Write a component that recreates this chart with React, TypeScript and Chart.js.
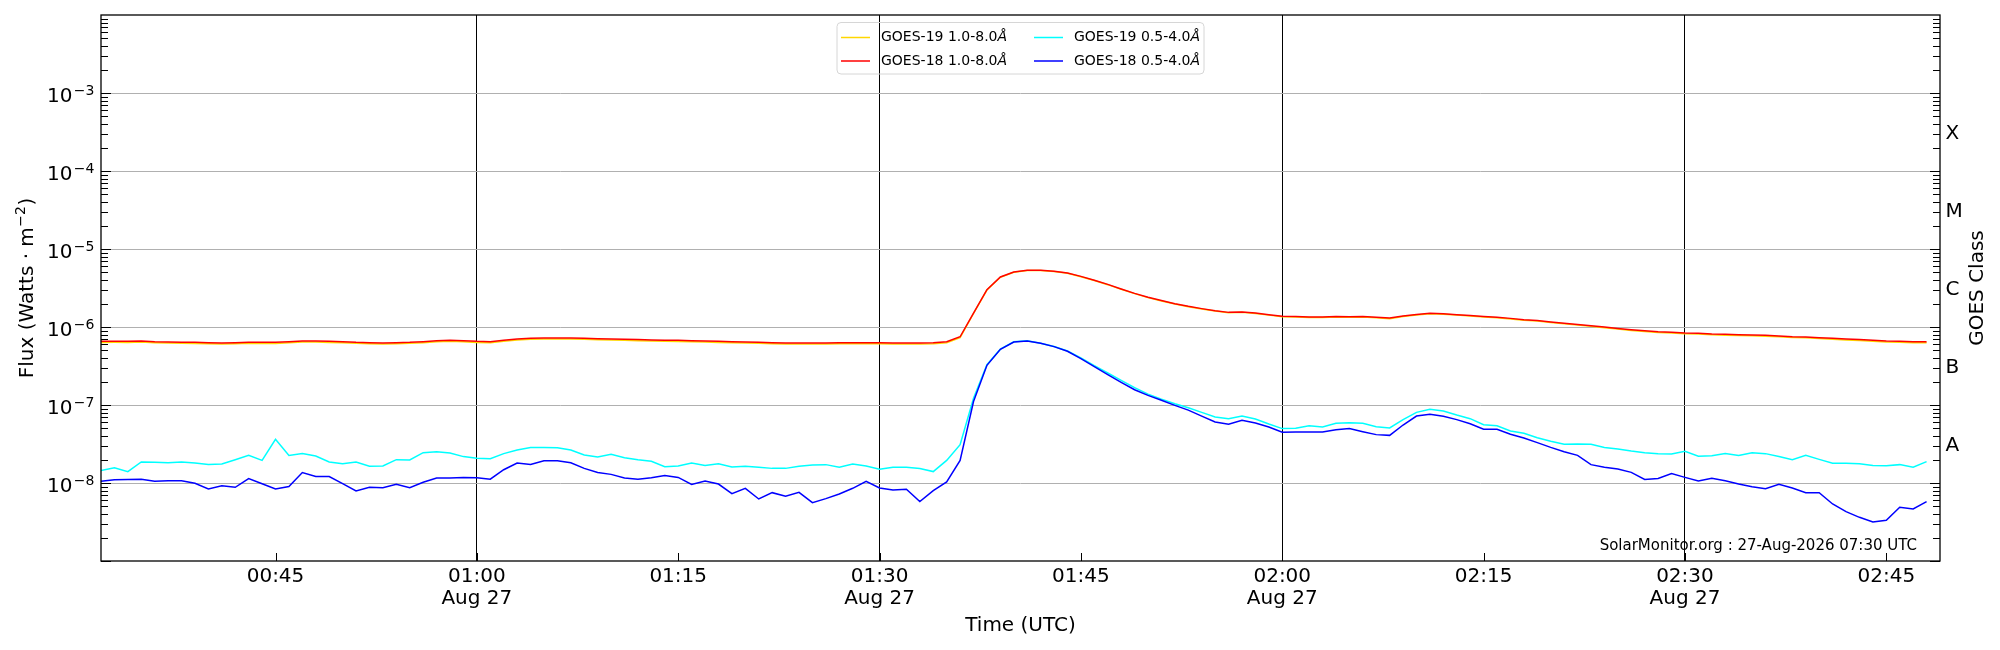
import { useEffect, useRef } from "react";
import Chart from "chart.js/auto";

// one sample per minute, starting 00:32 UTC on 27 Aug
const startMinute = 32;
const endMinute = 169;

// GOES-19 1.0-8.0 Å (W m^-2)
const goes19Long = [
  6.35e-7, 6.36e-7, 6.34e-7, 6.40e-7, 6.30e-7, 6.22e-7, 6.17e-7, 6.16e-7, 6.10e-7, 6.05e-7, 6.11e-7, 6.17e-7,
  6.15e-7, 6.16e-7, 6.30e-7, 6.42e-7, 6.42e-7, 6.35e-7, 6.30e-7, 6.17e-7, 6.10e-7, 6.05e-7, 6.11e-7, 6.17e-7,
  6.30e-7, 6.47e-7, 6.55e-7, 6.48e-7, 6.35e-7, 6.30e-7, 6.55e-7, 6.82e-7, 6.95e-7, 7.02e-7, 7.02e-7, 7.01e-7,
  6.95e-7, 6.88e-7, 6.81e-7, 6.74e-7, 6.68e-7, 6.61e-7, 6.55e-7, 6.54e-7, 6.47e-7, 6.42e-7, 6.35e-7, 6.29e-7,
  6.22e-7, 6.17e-7, 6.10e-7, 6.05e-7, 6.04e-7, 6.05e-7, 6.05e-7, 6.11e-7, 6.10e-7, 6.11e-7, 6.10e-7, 6.05e-7,
  6.04e-7, 6.05e-7, 6.12e-7, 6.30e-7,
  7.3e-7, 1.49e-6, 2.98e-6, 4.34e-6, 5.03e-6, 5.29e-6, 5.29e-6, 5.14e-6, 4.88e-6, 4.42e-6, 3.94e-6, 3.49e-6,
  3.04e-6, 2.68e-6, 2.38e-6, 2.16e-6, 1.97e-6, 1.82e-6, 1.70e-6, 1.60e-6, 1.52e-6, 1.54e-6, 1.49e-6, 1.42e-6,
  1.35e-6, 1.34e-6, 1.32e-6, 1.32e-6, 1.34e-6, 1.33e-6, 1.34e-6, 1.31e-6, 1.28e-6, 1.36e-6, 1.43e-6, 1.48e-6,
  1.46e-6, 1.42e-6, 1.38e-6, 1.34e-6, 1.31e-6, 1.27e-6, 1.22e-6, 1.19e-6, 1.14e-6, 1.10e-6, 1.06e-6, 1.02e-6,
  9.8e-7, 9.4e-7, 9.05e-7, 8.78e-7, 8.52e-7, 8.36e-7, 8.19e-7, 8.11e-7, 7.94e-7, 7.86e-7, 7.79e-7, 7.70e-7,
  7.63e-7, 7.48e-7, 7.33e-7, 7.26e-7, 7.11e-7, 6.97e-7, 6.83e-7, 6.70e-7, 6.56e-7, 6.43e-7, 6.36e-7, 6.30e-7,
  6.30e-7,
];

// GOES-18 1.0-8.0 Å
const goes18Long = [
  6.55e-7, 6.55e-7, 6.55e-7, 6.62e-7, 6.49e-7, 6.42e-7, 6.36e-7, 6.36e-7, 6.30e-7, 6.24e-7, 6.30e-7, 6.36e-7,
  6.36e-7, 6.36e-7, 6.49e-7, 6.62e-7, 6.62e-7, 6.55e-7, 6.49e-7, 6.36e-7, 6.30e-7, 6.24e-7, 6.30e-7, 6.36e-7,
  6.49e-7, 6.68e-7, 6.75e-7, 6.68e-7, 6.55e-7, 6.49e-7, 6.75e-7, 7.02e-7, 7.16e-7, 7.23e-7, 7.23e-7, 7.23e-7,
  7.16e-7, 7.09e-7, 7.02e-7, 6.95e-7, 6.89e-7, 6.82e-7, 6.75e-7, 6.75e-7, 6.68e-7, 6.62e-7, 6.55e-7, 6.49e-7,
  6.42e-7, 6.36e-7, 6.30e-7, 6.24e-7, 6.24e-7, 6.24e-7, 6.24e-7, 6.30e-7, 6.30e-7, 6.30e-7, 6.30e-7, 6.24e-7,
  6.24e-7, 6.24e-7, 6.30e-7, 6.48e-7,
  7.5e-7, 1.51e-6, 3.01e-6, 4.38e-6, 5.07e-6, 5.33e-6, 5.33e-6, 5.18e-6, 4.92e-6, 4.46e-6, 3.97e-6, 3.52e-6,
  3.07e-6, 2.70e-6, 2.40e-6, 2.18e-6, 1.99e-6, 1.84e-6, 1.72e-6, 1.62e-6, 1.54e-6, 1.56e-6, 1.51e-6, 1.44e-6,
  1.37e-6, 1.36e-6, 1.34e-6, 1.34e-6, 1.36e-6, 1.35e-6, 1.36e-6, 1.33e-6, 1.30e-6, 1.38e-6, 1.45e-6, 1.50e-6,
  1.48e-6, 1.44e-6, 1.40e-6, 1.36e-6, 1.33e-6, 1.29e-6, 1.24e-6, 1.21e-6, 1.16e-6, 1.12e-6, 1.08e-6, 1.04e-6,
  1.00e-6, 9.60e-7, 9.24e-7, 8.97e-7, 8.71e-7, 8.55e-7, 8.38e-7, 8.30e-7, 8.13e-7, 8.05e-7, 7.98e-7, 7.89e-7,
  7.82e-7, 7.67e-7, 7.52e-7, 7.45e-7, 7.30e-7, 7.16e-7, 7.02e-7, 6.89e-7, 6.75e-7, 6.62e-7, 6.55e-7, 6.49e-7,
  6.49e-7,
];

// GOES-19 0.5-4.0 Å
const goes19Short = [
  1.45e-8, 1.57e-8, 1.40e-8, 1.86e-8, 1.84e-8, 1.82e-8, 1.86e-8, 1.80e-8, 1.73e-8, 1.75e-8, 1.99e-8, 2.26e-8,
  1.95e-8, 3.63e-8, 2.26e-8, 2.38e-8, 2.22e-8, 1.86e-8, 1.77e-8, 1.86e-8, 1.64e-8, 1.65e-8, 1.99e-8, 1.97e-8,
  2.45e-8, 2.52e-8, 2.43e-8, 2.18e-8, 2.07e-8, 2.05e-8, 2.38e-8, 2.65e-8, 2.86e-8, 2.86e-8, 2.84e-8, 2.65e-8,
  2.29e-8, 2.16e-8, 2.33e-8, 2.11e-8, 1.99e-8, 1.90e-8, 1.62e-8, 1.65e-8, 1.80e-8, 1.68e-8, 1.77e-8, 1.60e-8,
  1.64e-8, 1.59e-8, 1.54e-8, 1.54e-8, 1.64e-8, 1.70e-8, 1.72e-8, 1.59e-8, 1.75e-8, 1.65e-8, 1.50e-8, 1.59e-8,
  1.59e-8, 1.53e-8, 1.40e-8, 1.95e-8, 3.10e-8,
  1.22e-7, 3.29e-7, 5.20e-7, 6.45e-7, 6.65e-7, 6.20e-7, 5.62e-7, 4.92e-7, 4.01e-7, 3.19e-7, 2.57e-7, 2.07e-7,
  1.67e-7, 1.38e-7, 1.19e-7, 1.04e-7, 9.2e-8, 8.05e-8, 7.02e-8, 6.68e-8, 7.23e-8, 6.62e-8, 5.71e-8, 4.98e-8,
  5.02e-8, 5.43e-8, 5.22e-8, 5.82e-8, 5.94e-8, 5.82e-8, 5.27e-8, 5.07e-8, 6.49e-8, 8.05e-8, 8.79e-8, 8.38e-8,
  7.44e-8, 6.68e-8, 5.60e-8, 5.43e-8, 4.65e-8, 4.34e-8, 3.81e-8, 3.42e-8, 3.13e-8, 3.16e-8, 3.13e-8, 2.86e-8,
  2.73e-8, 2.57e-8, 2.45e-8, 2.38e-8, 2.35e-8, 2.55e-8, 2.20e-8, 2.24e-8, 2.38e-8, 2.26e-8, 2.45e-8, 2.38e-8,
  2.18e-8, 1.99e-8, 2.26e-8, 2.01e-8, 1.79e-8, 1.79e-8, 1.77e-8, 1.68e-8, 1.67e-8, 1.72e-8, 1.59e-8, 1.88e-8,
];

// GOES-18 0.5-4.0 Å
const goes18Short = [
  1.05e-8, 1.10e-8, 1.11e-8, 1.12e-8, 1.05e-8, 1.07e-8, 1.07e-8, 9.9e-9, 8.4e-9, 9.2e-9, 8.8e-9, 1.14e-8,
  9.8e-9, 8.4e-9, 9.0e-9, 1.36e-8, 1.21e-8, 1.21e-8, 9.8e-9, 7.9e-9, 8.8e-9, 8.7e-9, 9.6e-9, 8.7e-9,
  1.02e-8, 1.16e-8, 1.16e-8, 1.18e-8, 1.17e-8, 1.12e-8, 1.48e-8, 1.80e-8, 1.73e-8, 1.93e-8, 1.93e-8, 1.82e-8,
  1.54e-8, 1.36e-8, 1.29e-8, 1.16e-8, 1.12e-8, 1.17e-8, 1.25e-8, 1.18e-8, 9.6e-9, 1.06e-8, 9.7e-9, 7.3e-9,
  8.55e-9, 6.24e-9, 7.52e-9, 6.75e-9, 7.59e-9, 5.60e-9, 6.30e-9, 7.23e-9, 8.55e-9, 1.05e-8, 8.63e-9, 8.13e-9,
  8.30e-9, 5.77e-9, 7.98e-9, 1.03e-8, 1.95e-8,
  1.11e-7, 3.23e-7, 5.17e-7, 6.42e-7, 6.62e-7, 6.18e-7, 5.60e-7, 4.88e-7, 3.93e-7, 3.10e-7, 2.45e-7, 1.95e-7,
  1.57e-7, 1.33e-7, 1.15e-7, 9.9e-8, 8.6e-8, 7.2e-8, 6.05e-8, 5.65e-8, 6.35e-8, 5.88e-8, 5.22e-8, 4.47e-8,
  4.51e-8, 4.51e-8, 4.51e-8, 4.83e-8, 4.98e-8, 4.55e-8, 4.17e-8, 4.08e-8, 5.54e-8, 7.22e-8, 7.59e-8, 7.16e-8,
  6.49e-8, 5.76e-8, 4.88e-8, 4.88e-8, 4.21e-8, 3.78e-8, 3.29e-8, 2.86e-8, 2.52e-8, 2.26e-8, 1.72e-8, 1.59e-8,
  1.51e-8, 1.37e-8, 1.11e-8, 1.14e-8, 1.32e-8, 1.18e-8, 1.06e-8, 1.15e-8, 1.07e-8, 9.7e-9, 8.98e-9, 8.45e-9,
  9.6e-9, 8.63e-9, 7.52e-9, 7.52e-9, 5.38e-9, 4.29e-9, 3.63e-9, 3.16e-9, 3.32e-9, 4.88e-9, 4.65e-9, 5.77e-9,
];

const xTickMinutes = [45, 60, 75, 90, 105, 120, 135, 150, 165];
const dayLabel = "Aug 27";
const yLabelExponents = [-8, -7, -6, -5, -4, -3];
const classLabels = ["A", "B", "C", "M", "X"];
const classValues = [3.16e-8, 3.16e-7, 3.16e-6, 3.16e-5, 3.16e-4];
const watermark = "SolarMonitor.org : 27-Aug-2026 07:30 UTC";

const legendItems = [
  { label: "GOES-19 1.0-8.0", color: "#ffd700" },
  { label: "GOES-19 0.5-4.0", color: "#00ffff" },
  { label: "GOES-18 1.0-8.0", color: "#ff0000" },
  { label: "GOES-18 0.5-4.0", color: "#0000ff" },
];

const FAMILY = '"DejaVu Sans", sans-serif';
const font = (size: number, italic = false) => `${italic ? "italic " : ""}${size}px ${FAMILY}`;

const minutes = goes18Long.map((_, i) => startMinute + i);
const toPoints = (values: number[]) => values.map((v, i) => ({ x: minutes[i], y: v }));

const hhmm = (m: number) =>
  `${String(Math.floor(m / 60)).padStart(2, "0")}:${String(m % 60).padStart(2, "0")}`;

const decorPlugin = {
  id: "goesDecor",
  afterDraw(chart: any) {
    const { ctx, chartArea: a } = chart;
    const xs = chart.scales.x;
    const ys = chart.scales.y;
    const seg = (x1: number, y1: number, x2: number, y2: number) => {
      ctx.beginPath();
      ctx.moveTo(x1, y1);
      ctx.lineTo(x2, y2);
      ctx.stroke();
    };

    ctx.save();
    ctx.strokeStyle = "#000";
    ctx.fillStyle = "#000";
    ctx.lineWidth = 1;

    // inward ticks on left/right (log) and bottom
    for (let e = -9; e < -2; e++) {
      for (let m = 1; m <= 9; m++) {
        const py = Math.round(ys.getPixelForValue(m * Math.pow(10, e))) + 0.5;
        const len = m === 1 ? 10 : 7;
        seg(a.left, py, a.left + len, py);
        seg(a.right, py, a.right - len, py);
      }
    }
    xTickMinutes.forEach((t) => {
      const px = Math.round(xs.getPixelForValue(t)) + 0.5;
      seg(px, a.bottom, px, a.bottom - 8);
    });

    // frame
    ctx.lineWidth = 1.3;
    ctx.strokeRect(a.left, a.top, a.right - a.left, a.bottom - a.top);

    // y tick labels 10^n
    ctx.textAlign = "right";
    ctx.textBaseline = "alphabetic";
    yLabelExponents.forEach((e) => {
      const py = ys.getPixelForValue(Math.pow(10, e));
      const exp = "\u2212" + Math.abs(e);
      const right = a.left - 6.5;
      ctx.font = font(14);
      const w = ctx.measureText(exp).width;
      ctx.fillText(exp, right, py + 1.5);
      ctx.font = font(20);
      ctx.fillText("10", right - w - 1.5, py + 9);
    });

    // x tick labels
    ctx.textAlign = "center";
    ctx.font = font(20);
    xTickMinutes.forEach((t) => {
      const px = xs.getPixelForValue(t);
      ctx.fillText(hhmm(t), px, 581.5);
      if (t % 30 === 0) ctx.fillText(dayLabel, px, 603.5);
    });
    ctx.fillText("Time (UTC)", (a.left + a.right) / 2, 631);

    // GOES class labels on the right
    ctx.textAlign = "left";
    ctx.textBaseline = "middle";
    classLabels.forEach((c, i) => {
      ctx.fillText(c, a.right + 5.5, ys.getPixelForValue(classValues[i]) + 1.5);
    });

    // axis titles
    const midY = (a.top + a.bottom) / 2;
    ctx.textBaseline = "alphabetic";
    ctx.save();
    ctx.translate(1983, midY);
    ctx.rotate(-Math.PI / 2);
    ctx.textAlign = "center";
    ctx.fillText("GOES Class", 0, 0);
    ctx.restore();

    ctx.save();
    ctx.translate(33, midY);
    ctx.rotate(-Math.PI / 2);
    ctx.textAlign = "left";
    const p1 = "Flux (Watts \u00b7 m";
    const sup = "\u22122";
    const p3 = ")";
    ctx.font = font(20);
    const w1 = ctx.measureText(p1).width;
    const w3 = ctx.measureText(p3).width;
    ctx.font = font(14);
    const w2 = ctx.measureText(sup).width;
    let cx = -(w1 + w2 + w3 + 1) / 2;
    ctx.font = font(20);
    ctx.fillText(p1, cx, 0);
    cx += w1 + 0.5;
    ctx.font = font(14);
    ctx.fillText(sup, cx, -8);
    cx += w2 + 0.5;
    ctx.font = font(20);
    ctx.fillText(p3, cx, 0);
    ctx.restore();

    // watermark
    ctx.textAlign = "right";
    ctx.font = font(15);
    ctx.fillText(watermark, 1917, 549.5);

    // legend box
    const bx = 837, by = 22.5, bw = 367, bh = 51.5, r = 4;
    ctx.lineWidth = 1;
    ctx.strokeStyle = "#d6d6d6";
    ctx.beginPath();
    ctx.roundRect(bx, by, bw, bh, r);
    ctx.stroke();
    const cols = [841, 1034];
    const rows = [37.5, 61];
    ctx.textBaseline = "middle";
    ctx.textAlign = "left";
    legendItems.forEach((it, i) => {
      const lx = cols[i % 2];
      const ly = rows[Math.floor(i / 2)];
      ctx.strokeStyle = it.color;
      ctx.lineWidth = 1.5;
      seg(lx, ly, lx + 29, ly);
      ctx.font = font(14);
      ctx.fillStyle = "#000";
      ctx.fillText(it.label, lx + 40, ly);
      const tw = ctx.measureText(it.label).width;
      ctx.font = font(14, true);
      ctx.fillText("\u00c5", lx + 40 + tw, ly);
    });

    ctx.restore();
  },
};

export default function App() {
  const canvasRef = useRef<HTMLCanvasElement | null>(null);
  const chartRef = useRef<Chart | null>(null);

  useEffect(() => {
    if (!canvasRef.current) return;
    if (chartRef.current) chartRef.current.destroy();

    chartRef.current = new Chart(canvasRef.current, {
      type: "line",
      data: {
        datasets: [
          // index 0 is painted last (on top)
          { label: "GOES-18 0.5-4.0Å", data: toPoints(goes18Short), borderColor: "#0000ff" },
          { label: "GOES-18 1.0-8.0Å", data: toPoints(goes18Long), borderColor: "#ff0000" },
          { label: "GOES-19 0.5-4.0Å", data: toPoints(goes19Short), borderColor: "#00ffff" },
          { label: "GOES-19 1.0-8.0Å", data: toPoints(goes19Long), borderColor: "#ffd700" },
        ],
      },
      options: {
        animation: false,
        responsive: false,
        events: [],
        layout: { padding: { top: 15, right: 60, left: 0, bottom: 0 } },
        elements: {
          point: { radius: 0 },
          line: { tension: 0, borderWidth: 1.5, fill: false },
        },
        plugins: { legend: { display: false }, tooltip: { enabled: false } },
        scales: {
          x: {
            type: "linear",
            min: startMinute,
            max: endMinute,
            afterFit: (s: any) => {
              s.height = 89;
            },
            afterBuildTicks: (s: any) => {
              s.ticks = xTickMinutes.map((v) => ({ value: v }));
            },
            ticks: { display: false },
            grid: {
              drawTicks: false,
              lineWidth: 1,
              color: (c: any) => (c.tick && c.tick.value % 30 === 0 ? "#000000" : "rgba(0,0,0,0)"),
            },
            border: { display: false },
          },
          y: {
            type: "logarithmic",
            min: 1e-9,
            max: 1e-2,
            afterFit: (s: any) => {
              s.width = 101;
            },
            afterBuildTicks: (s: any) => {
              s.ticks = yLabelExponents.map((e) => ({ value: Math.pow(10, e) }));
            },
            ticks: { display: false },
            grid: { drawTicks: false, lineWidth: 1, color: "#b0b0b0" },
            border: { display: false },
          },
        },
      },
      plugins: [decorPlugin],
    } as any);

    return () => {
      if (chartRef.current) {
        chartRef.current.destroy();
        chartRef.current = null;
      }
    };
  }, []);

  return (
    <div style={{ position: "fixed", left: 0, top: 0, width: 2000, height: 650, background: "#fff" }}>
      <canvas ref={canvasRef} width={2000} height={650} style={{ display: "block" }} />
    </div>
  );
}
